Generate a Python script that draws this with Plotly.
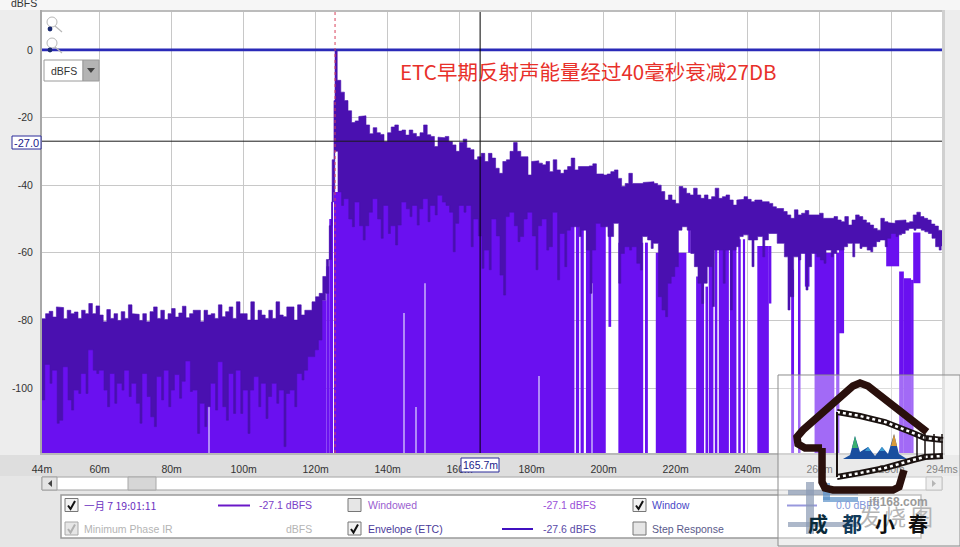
import plotly.graph_objects as go

# ---------- DATA ----------
x_tick_vals = [44, 60, 80, 100, 120, 140, 160, 180, 200, 220, 240, 260, 280, 294]
x_tick_text = ["44m", "60m", "80m", "100m", "120m", "140m", "160m", "180m", "200m", "220m", "240m", "260m", "280m", "294ms"]
y_tick_vals = [0, -20, -40, -60, -80, -100]
y_tick_text = ["0", "-20", "-40", "-60", "-80", "-100"]

etc_time = list(range(44, 122)) + [122, 123, 123.8, 124.6, 125.1, 125.4] + list(range(126, 295))

etc_top = [
    -79.5,-78,-77.3,-79,-76,-76.2,-79.5,-77,-78,-77.5,-79.4,-77,-78,-75,-78,-75.7,-78.4,-80.4,-76.8,-79.4,-78,
    -80,-77.4,-79.4,-75.4,-78,-78.2,-80,-78,-80.4,-77.4,-76,-79.4,-77,-79.7,-78,-76.5,-79,-77.8,-75.8,-79.2,-78,
    -77,-77,-80.4,-77,-78.4,-78,-79.4,-75.4,-78.9,-77.4,-76,-79.4,-74.5,-78,-78,-79.9,-74.5,-79.9,
    -77,-78.4,-79.4,-77,-79.4,-74.5,-78.4,-78.9,-76,-76,-79.9,-75.4,-78.4,-77,-77,-74.5,-73,-72,
    -67,-62,-52,-32.5,-15,0,
    -9,-12.5,-15,-18,-21.5,-21,-19.7,
    -19.5,-22.2,-24.8,-23,-24.5,-25,-27.2,-24.5,-22.8,-22.2,-24,-23.7,-25.2,-23.7,-24.7,-25.6,-24.5,-22.2,-25.1,-25.6,
    -28.6,-25.8,-26,-25.6,-27.1,-28.1,-30,-27.4,-26.4,-29,-29.5,-32.5,-31.6,-30.6,-33,-30.6,-32,-35,-36.5,-33,
    -32.5,-30,-27.4,-30,-31.6,-31.6,-37,-33,-32.8,-33.5,
    -34,-33,-36,-32.5,-35.5,
    -36.5,-35.5,-34.5,-32,-35.5,-34.5,-34.7,-34.5,-34.3,-33.7,-36.7,-36.7,-37,-36.7,-36,-35.5,-38,-40.4,-39.5,-36.5,
    -39.5,-39.5,-39.5,-39.2,-39,-39,-39.5,-40,-41.9,-44.4,-42.9,-44.4,-45.4,-40.4,-40.9,-42.4,-42.9,-40.9,-42.9,-43.9,
    -42.9,-44.2,-43.4,-40.9,-43.9,-43.4,-42.9,-44.4,-45.9,-44.4,-44.2,-43.4,-44.2,-44.9,-44.4,-44.4,-44.9,-44.9,-45.4,-46.4,
    -46.9,-46.9,-47.8,-48.8,-49.8,-47.3,-48.8,-48.3,-47.5,-48.8,-48.8,-48.8,-48.3,-49.8,-49.8,-49.8,-49.3,-50.3,-50.8,-49.3,
    -51.8,-50.3,-48.8,-49.3,-50.3,-51.1,-51.8,-52.8,-53.3,-49.8,-50.8,-51.1,-51.3,-50.5,-50.3,-50.3,-51.1,-50.8,-48.8,-48,
    -49.3,-49.8,-50.3,-51.5,-52.1,-53.3,-53.5,
]
etc_low = [
    -103.5,-93,-98.6,-94.7,-110.4,-109.5,-93.7,-103.5,-106.5,-100.6,-101.6,-95.7,-101.6,-88.7,-94.7,-95.7,-94.7,-100.6,-105.5,-95.7,-104.5,
    -98.6,-100.6,-94.7,-102.5,-98.6,-104.5,-110.4,-95.7,-102.5,-108.5,-111.4,-96.6,-103.5,-94.7,-105.5,-100.6,-96,-103,-98,-92,-101,
    -100.6,-113.4,-104.5,-111.4,-105.5,-98.6,-106.5,-92.2,-105.5,-109.5,-95.7,-107.5,-94.7,-107.5,-100.6,-113.4,-100.6,-96.6,
    -105.5,-98.6,-109,-102.5,-98.6,-104.5,-100.6,-117.3,-101.6,-100.6,-105.5,-95.7,-97.6,-94.7,-90.7,-90.7,-88.7,-85.8,
    -74,-72,-62,-45,-42,-30,
    -42,-46,-44,-50,-52.3,-45,-52,-56.2,-52,-48,-44,-50,-55.7,-46,-54.3,-52,-57.7,-51.8,-45,-47,
    -49.3,-46,-51.8,-47,-44,-50.8,-46,-48.8,-43,-45,-46,-48,-59.7,-51.3,-46,-48,-46,-58.2,-50,-55,
    -64.6,-59.2,-65,-50,-55,-66.6,-72.5,-49.3,-48,-52,-56.7,-55.2,-50,-48,-55,-65,-52,-50,-59.2,-58.2,
    -48,-68,
    -54.3,-64.1,-53.3,-52.3,-52.3,-55.2,-53.3,-59.2,-72,-59.2,-51.3,-52.3,-52.3,-55.2,-55.2,-51.3,-69,-60.2,-58.2,-59.2,
    -58.2,-63.1,-65.1,-55.2,-56.2,-58.7,-57.2,-73,-76.9,-78.9,-69,-67,-64.1,-53.3,-52.3,-53.3,-60.2,-64.1,-69,-75,
    -69,-64.1,-75.9,-59.2,-59.2,-69,-59.2,-76.9,-59.2,-58.2,-55.2,-54.7,-56.2,-64.1,-56.2,-55.2,-61.2,-56.2,-54.3,-54.3,
    -57.2,-57.2,-61.2,-76.9,-73,-61.2,-62.1,-60.2,-71,-64.1,-60.2,-61.2,-62.1,-63.1,-59.2,-61.2,-60.2,-59.2,-59.2,-58.2,
    -57.2,-61.2,-57.2,-58.7,-58.2,-59.2,-59.7,-58.2,-56.7,-56.2,-58.2,-55.7,-54.3,-55.2,-54.7,-54.3,-53.3,-52.8,-53.3,-52.8,
    -53.3,-53.8,-54.3,-55.7,-58.2,-59.2,-58,
]

ir_start = [44,121.5,123,123.8,124.6,125.1,192.3,193.6,195.1,201.35,204.1,211.5,214.5,223.5,225.7,228.3,229.2,230.9,232,235.1,237.4,238.7,242.7,245.9,252.1,254,255.9,258.6,264.6,265.4,278.5,282.1,283.4,285.4,286]
ir_end   = [121.5,123,123.8,124.6,124.8,191.9,193.2,194.5,200.6,202.1,211,212.3,223,224.2,227.9,229,230.5,231.6,234.8,236.9,238.1,239.3,245.9,246.6,252.9,254.7,257.2,264.1,265.5,266.8,282.1,283.4,285.4,286.1,288]
ir_top   = [-85,-74,-64,-50,-40,-42,-52,-52,-49.3,-54,-57,-57,-60,-51,-67,-70,-55,-57,-56,-58,-56,-56,-58,-58,-65,-58,-60,-60,-60,-59,-54,-65.5,-67.5,-68,-54]
ir_floor = [-119.2,-119.2,-119.2,-119.2,-119.2,-119.2,-119.2,-119.2,-119.2,-81.9,-119.2,-119.2,-119.2,-60,-119.2,-119.2,-119.2,-119.2,-119.2,-119.2,-119.2,-119.2,-119.2,-75,-119.2,-119.2,-70,-119.2,-119.2,-83.8,-64,-119.2,-119.2,-119.2,-69]

notch_time = [90.5, 144.6, 148.0, 150.3, 182.0, 196.7]
notch_top = [-92, -77.8, -105.6, -69, -96.4, -69]

window_time = [44, 294]
window_level = [0, 0]
peak_time = 125.4
cursor_time = 165.7
cursor_level = -27.0
axis_floor = -119.2
axis_ceiling = 11.2

# ---------- HELPERS ----------
L, R, T, B = 42, 942, 12, 453
FONT = "Liberation Sans"
CJK = "Noto Sans CJK SC"
def px(v): return (v - L) / (R - L)
def py(v): return 1 - (v - T) / (B - T)

shapes, notes = [], []
def rect(x0, y0, x1, y1, fill="rgba(0,0,0,0)", line=None, lw=1, layer="above", op=None):
    s = dict(type="rect", xref="paper", yref="paper", x0=px(x0), x1=px(x1), y0=py(y0), y1=py(y1),
             fillcolor=fill, line=dict(color=line or "rgba(0,0,0,0)", width=lw if line else 0), layer=layer)
    if op is not None: s["opacity"] = op
    shapes.append(s)
def seg(x0, y0, x1, y1, color, lw=1, dash=None):
    shapes.append(dict(type="line", xref="paper", yref="paper", x0=px(x0), x1=px(x1), y0=py(y0), y1=py(y1),
                       line=dict(color=color, width=lw, dash=dash or "solid"), layer="above"))
def poly(points, color=None, lw=0, fill=None, closed=False, dash=None):
    d = "M %.4f %.4f " % (px(points[0][0]), py(points[0][1]))
    for a, b in points[1:]:
        d += "L %.4f %.4f " % (px(a), py(b))
    if closed: d += "Z"
    shapes.append(dict(type="path", xref="paper", yref="paper", path=d, fillcolor=fill or "rgba(0,0,0,0)",
                       line=dict(color=color or "rgba(0,0,0,0)", width=lw, dash=dash or "solid"), layer="above"))
def circle(cx, cy, r, color=None, fill=None, lw=1):
    shapes.append(dict(type="circle", xref="paper", yref="paper", x0=px(cx-r), x1=px(cx+r), y0=py(cy+r), y1=py(cy-r),
                       fillcolor=fill or "rgba(0,0,0,0)", line=dict(color=color or "rgba(0,0,0,0)", width=lw), layer="above"))
def txt(x, y, s, color="#333333", size=10.5, anchor="left", family=FONT, bold=False):
    notes.append(dict(xref="paper", yref="paper", x=px(x), y=py(y), text=("<b>%s</b>" % s) if bold else s,
                      showarrow=False, xanchor=anchor, yanchor="middle", xshift=0,
                      font=dict(color=color, size=size, family=family), borderpad=0, borderwidth=0))
def check(x, y, on=True, dim=False):
    rect(x, y, x+13, y+13, fill="#e6e6e6" if dim or not on else "#f2f2f2", line="#a8a8a8" if dim else "#777777", lw=1)
    if on:
        c = "#b0b0b0" if dim else "#111111"
        poly([(x+3, y+7), (x+5.5, y+10.5), (x+10, y+2.5)], color=c, lw=2)

# ---------- TRACES ----------
fig = go.Figure()
fig.add_bar(x=[(a+b)/2 for a, b in zip(ir_start, ir_end)], width=[b-a for a, b in zip(ir_start, ir_end)],
            base=ir_floor, y=[t-f for t, f in zip(ir_top, ir_floor)],
            marker=dict(color="#6a10f0", line=dict(width=0)), name="IR", hoverinfo="skip")

# envelope band: stair outline along the top, then back along the lower edge with narrow downward spikes
edges = etc_time + [294.6]
n = len(etc_time)
up_x, up_y, lo_x, lo_y = [], [], [], []
for i in range(n):
    a, b = edges[i], edges[i+1]
    w = b - a
    up_x += [a, b]
    up_y += [etc_top[i], etc_top[i]]
    before = max(etc_low[i], etc_low[i-1]) if i else etc_low[i]
    after = max(etc_low[i], etc_low[i+1]) if i < n-1 else etc_low[i]
    lo_x += [a, a+0.22*w, a+0.22*w, a+0.78*w, a+0.78*w, b]
    lo_y += [before, before, etc_low[i], etc_low[i], after, after]
fig.add_scatter(x=up_x + lo_x[::-1], y=up_y + lo_y[::-1], mode="lines", fill="toself", fillcolor="#4a10b0",
                line=dict(color="#4a10b0", width=0.6), name="Envelope (ETC)", hoverinfo="skip")
fig.add_bar(x=notch_time, width=[0.25]*len(notch_time), base=[axis_floor]*len(notch_time),
            y=[t-axis_floor for t in notch_top], marker=dict(color="#b08af8", line=dict(width=0)), name="notch", hoverinfo="skip")
fig.add_scatter(x=window_time, y=window_level, mode="lines", line=dict(color="#2a2ab8", width=2.6), name="Window", hoverinfo="skip")

# ---------- CROSSHAIR / PEAK ----------
shapes.append(dict(type="line", xref="x", yref="y", x0=peak_time, x1=peak_time, y0=axis_floor, y1=axis_ceiling,
                   line=dict(color="#d8405a", width=1, dash="dot"), layer="above"))
shapes.append(dict(type="line", xref="x", yref="y", x0=cursor_time, x1=cursor_time, y0=axis_floor, y1=axis_ceiling,
                   line=dict(color="#000000", width=1), layer="above"))
shapes.append(dict(type="line", xref="x", yref="y", x0=44, x1=294, y0=cursor_level, y1=cursor_level,
                   line=dict(color="#1a1a1a", width=1), layer="above"))

# ---------- CHROME ----------
rect(0, 0, 960, 10, fill="#f6f6f6", layer="below")
rect(0, 455, 960, 476, fill="#dedede", layer="below")
rect(0, 476, 960, 547, fill="#e6e6e6", layer="below")
rect(40, 10, 944, 12, fill="#bcbcbc", layer="below")
rect(40, 10, 42, 455, fill="#a8a8a8", layer="below")
rect(942, 10, 945, 455, fill="#d0d0d0", layer="below")
rect(40, 453, 945, 455, fill="#b8b8b8", layer="below")

# zoom icons
for cy, dot in ((22, 29), (43, 50)):
    circle(52, cy, 5, color="#b8b8b8", fill="rgba(255,255,255,0.6)")
    seg(55, cy+4, 62, cy+10, "#b8b8b8", 1.2)
    circle(50, dot, 2.4, fill="#1a2a70")
# dropdown
rect(44, 60, 83, 81, fill="#ffffff", line="#9a9a9a")
rect(83, 60, 99, 81, fill="#b4b4b4", line="#9a9a9a")
poly([(87, 68), (95, 68), (91, 73)], fill="#404040", closed=True)
txt(63.5, 70.5, "dBFS", size=10.5, anchor="center")

# cursor read-outs
rect(12, 136, 41, 149, fill="#ffffff", line="#2a2a9a")
txt(26.5, 142.5, "-27.0", color="#1a1a8a", size=11, anchor="center")
rect(461, 458, 499, 472, fill="#ffffff", line="#2a2a9a")
txt(480, 465, "165.7m", color="#1a1a8a", size=10.5, anchor="center")
txt(24, 3, "dBFS", size=10.5, anchor="center")

# title
txt(400, 71, "ETC早期反射声能量经过40毫秒衰减27DB", color="#e8302a", size=20.5, family=CJK)

# scrollbar
rect(42, 477, 942, 490, fill="#ffffff", line="#a0a0a0")
rect(42, 477, 57, 490, fill="#e4e4e4", line="#a0a0a0")
poly([(52, 480), (52, 487), (48, 483.5)], fill="#444444", closed=True)
rect(128, 477, 156, 490, fill="#d6d6d6", line="#a8a8a8")
rect(926, 477, 942, 490, fill="#e4e4e4", line="#a0a0a0")
poly([(932, 480), (932, 487), (936, 483.5)], fill="#888888", closed=True)

# legend panel
rect(61, 495, 921, 538, fill="#ffffff", line="#9a9a9a", lw=1.5)
check(65, 498.5, True)
txt(84, 505, "一月 7 19:01:11", color="#6a30c0", size=10.5, family=CJK)
seg(218, 505.5, 250, 505.5, "#6a18c8", 2)
txt(312, 505, "-27.1 dBFS", color="#7a40c8", anchor="right")
check(348, 498.5, False)
txt(368, 505, "Windowed", color="#9a60d0")
txt(596, 505, "-27.1 dBFS", color="#9a50d8", anchor="right")
check(633, 498.5, True)
txt(652, 505, "Window", color="#4a4ac8")
seg(787, 505.5, 817, 505.5, "#5a5ac8", 2)
txt(880, 505, "0.0 dBFS", color="#7f96d8", anchor="right")
check(65, 522, True, dim=True)
txt(84, 528.5, "Minimum Phase IR", color="#b4b4b4")
txt(312, 528.5, "dBFS", color="#b4b4b4", anchor="right")
check(348, 522, True)
txt(368, 528.5, "Envelope (ETC)", color="#4a3a9a")
seg(502, 529, 533, 529, "#4010c0", 2)
txt(596, 528.5, "-27.6 dBFS", color="#5a4aa8", anchor="right")
check(633, 522, False)
txt(652, 528.5, "Step Response", color="#5a5a8a")

# watermark veil
shapes.append(dict(type="path", xref="paper", yref="paper", layer="above",
    path="M %f %f L %f %f L %f %f L %f %f Z" % (px(778), py(375), px(960), py(375), px(960), py(546), px(778), py(546)),
    fillcolor="rgba(255,255,255,0.38)", line=dict(color="#8c8c8c", width=1)))
# faint glyph bars
for a, b, c, d, col in ((788, 490, 858, 495, "#8a9ab4"), (788, 522, 858, 527, "#8a9ab4"), (806, 482, 814, 534, "#8a9ab4"),
                        (823, 483, 830, 500, "#5a90c8"), (823, 497, 858, 502, "#5a90c8")):
    rect(a, b, c, d, fill=col, op=0.7)
# house
BR = "#2a100c"
poly([(822, 448), (805, 448), (798, 444), (797, 437), (803, 430), (853, 386), (860, 383), (868, 386), (927, 432)], color=BR, lw=7.5)
poly([(822, 448), (822, 482), (825, 488), (833, 490), (893, 490), (899, 487), (904, 470)], color=BR, lw=7.5)
# film strip
top_edge = [(837, 412), (860, 416), (885, 422), (913, 433), (925, 438), (943, 440)]
bot_edge = [(837, 477), (860, 473), (885, 468), (913, 460), (925, 457), (943, 456)]
for edge in (top_edge, bot_edge):
    poly(edge, color="#1a1210", lw=6)
    poly(edge, color="#ffffff", lw=2.5, dash="3px,3px")
seg(837, 412, 837, 477, "#1a1210", 2)
for xx in (917, 925, 934, 942):
    seg(xx, 434, xx, 459, "#1a1210", 1.5)
# mini spectrum
poly([(843, 459), (850, 455), (855, 436), (860, 452), (868, 447), (875, 456), (882, 447), (888, 454), (894, 434), (899, 454), (907, 459)],
     fill="#1a4f9f", closed=True)
poly([(852, 448), (855, 436), (858, 448)], fill="#3ab070", closed=True)
poly([(891, 446), (894, 434), (897, 446)], fill="#d89a3a", closed=True)
poly([(865, 451), (868, 447), (871, 451)], fill="#3a9ad0", closed=True)
poly([(879, 451), (882, 447), (885, 451)], fill="#3a9ad0", closed=True)
txt(898, 502, "ifi168.com", color="#9a9a9a", size=12, anchor="center", bold=True)
for xx, ch in ((870, "发"), (895, "烧"), (922, "图")):
    txt(xx, 515, ch, color="#b4b4b4", size=22, anchor="center", family=CJK)
for xx, ch, col in ((818, "成", "#0a2a3a"), (852, "都", "#123a5a"), (885, "小", "#101010"), (918, "春", "#101010")):
    txt(xx, 523, ch, color=col, size=20, anchor="center", family=CJK, bold=True)

fig.update_layout(
    width=960, height=547, margin=dict(l=L, r=960-R, t=T, b=547-B, autoexpand=False),
    paper_bgcolor="#ededed", plot_bgcolor="#ffffff", showlegend=False, barmode="overlay",
    font=dict(family=FONT, size=10.5, color="#333333"), shapes=shapes, annotations=notes,
    xaxis=dict(range=[44, 294], tickmode="array", tickvals=x_tick_vals, ticktext=x_tick_text, showgrid=True,
               gridcolor="#c8c8c8", gridwidth=1.4, zeroline=False, ticks="outside", ticklen=6,
               tickcolor="rgba(0,0,0,0)", tickangle=0, showline=False, fixedrange=True),
    yaxis=dict(range=[axis_floor, axis_ceiling], tickmode="array", tickvals=y_tick_vals, ticktext=y_tick_text, showgrid=True,
               gridcolor="#c8c8c8", gridwidth=1.4, zeroline=False, ticks="outside", ticklen=6,
               tickcolor="rgba(0,0,0,0)", showline=False, automargin=False, fixedrange=True),
)
fig.write_html("out.html", config=dict(displayModeBar=False), post_script="document.body.style.margin='0';")
